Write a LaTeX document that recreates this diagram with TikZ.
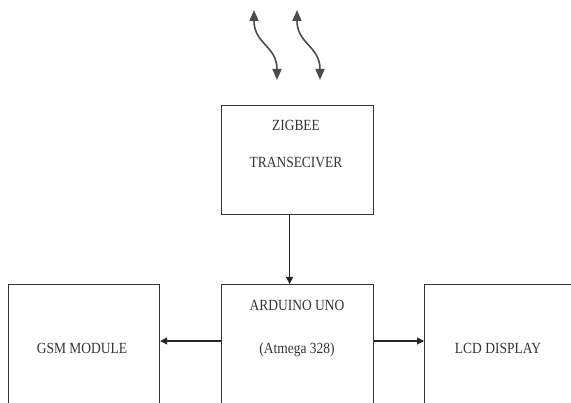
\documentclass[tikz,border=0pt]{standalone}
\usepackage{fontspec}
\setmainfont[FakeStretch=0.87]{Liberation Serif}
\usetikzlibrary{arrows.meta}
\begin{document}
\begin{tikzpicture}[x=1pt,y=-1pt,
 blk/.style={draw=black!80,line width=1.2pt,rectangle,anchor=north west,inner sep=0pt},
 lbl/.style={font=\fontsize{15.5}{18}\selectfont,text=black!80,inner sep=0pt},
 conn/.style={draw=black!85,line width=1.1pt,-{Triangle[length=7pt,width=7pt]}},
 wave/.style={draw=black!70,line width=1.6pt,{Triangle[length=11pt,width=9pt]}-{Triangle[length=11pt,width=9pt]}}]
\useasboundingbox (0,0) rectangle (571,403);
\clip (0,0) rectangle (571,403);
% boxes
\node[blk,minimum width=152pt,minimum height=109pt] (zig) at (221,105) {};
\node[blk,minimum width=152pt,minimum height=140pt] (ard) at (221,284) {};
\node[blk,minimum width=151pt,minimum height=140pt] (gsm) at (8,284) {};
\node[blk,minimum width=170pt,minimum height=140pt] (lcd) at (424,284) {};
% labels
\node[lbl] (t1) at (296,125) {ZIGBEE};
\node[lbl] (t2) at (296,162) {TRANSECIVER};
\node[lbl] (t3) at (297,305) {ARDUINO UNO};
\node[lbl] (t4) at (297,350) {(Atmega 328)};
\node[lbl] (t5) at (82,348) {GSM MODULE};
\node[lbl] (t6) at (498,348) {LCD DISPLAY};
% connectors
\draw[conn] ([xshift=-8pt]zig.south) -- ([xshift=-8pt]ard.north);
\draw[conn] (ard.west |- 0,341) -- (gsm.east |- 0,341);
\draw[conn] (ard.east |- 0,341) -- (lcd.west |- 0,341);
% wireless squiggles
\coordinate (w1a) at (254,10);
\coordinate (w1b) at (277,80);
\coordinate (w2a) at (297,10);
\coordinate (w2b) at (320,80);
\draw[wave] (w1a) .. controls (254,44) and (277,46) .. (w1b);
\draw[wave] (w2a) .. controls (297,44) and (320,46) .. (w2b);
\end{tikzpicture}
\end{document}
